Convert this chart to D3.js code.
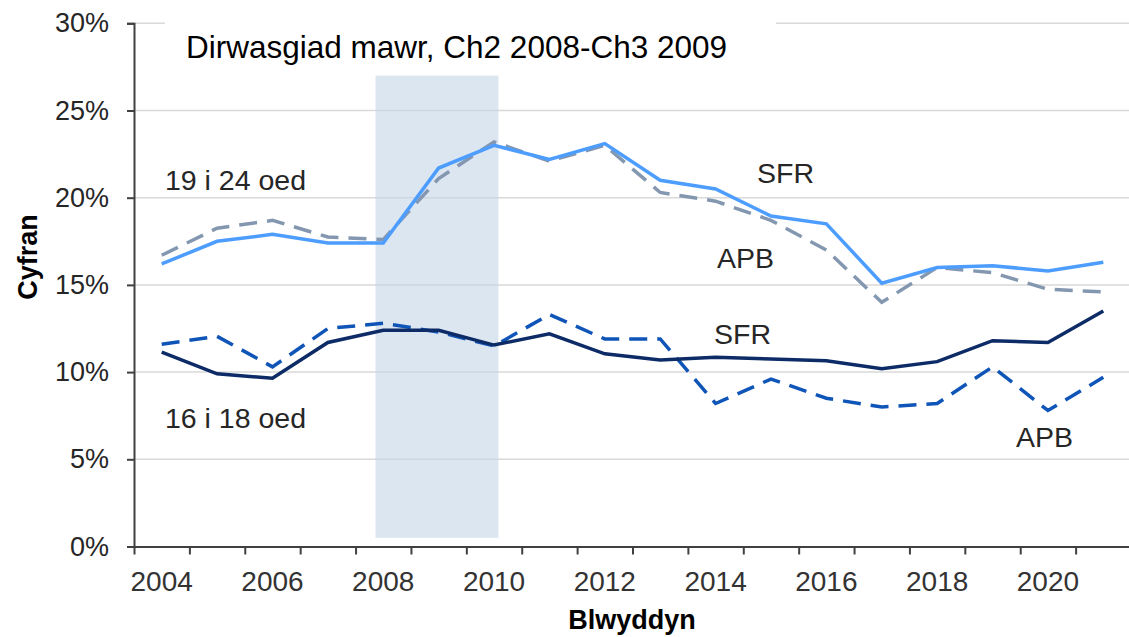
<!DOCTYPE html>
<html>
<head>
<meta charset="utf-8">
<script src="https://cdn.jsdelivr.net/npm/d3@7"></script>
<style>
  body { margin: 0; background: #fff; }
  text { font-family: "Liberation Sans", Arial, sans-serif; fill: #262626; }
</style>
</head>
<body>
<svg id="chart" width="1129" height="637"></svg>
<script>
// Data
const years = d3.range(2004, 2022);
const sfr1924 = [16.2, 17.5, 17.9, 17.4, 17.4, 21.7, 23.0, 22.2, 23.1, 21.0, 20.5, 18.95, 18.5, 15.1, 16.0, 16.1, 15.8, 16.3];
const apb1924 = [16.7, 18.25, 18.7, 17.75, 17.6, 21.1, 23.2, 22.1, 23.0, 20.3, 19.8, 18.7, 17.0, 14.0, 16.0, 15.7, 14.75, 14.6];
const sfr1618 = [11.15, 9.9, 9.65, 11.7, 12.4, 12.4, 11.55, 12.2, 11.05, 10.7, 10.85, 10.75, 10.65, 10.2, 10.6, 11.8, 11.7, 13.5];
const apb1618 = [11.6, 12.05, 10.3, 12.5, 12.8, 12.3, 11.5, 13.3, 11.9, 11.9, 8.2, 9.6, 8.5, 8.0, 8.2, 10.3, 7.8, 9.7];
const yTicks = [0, 5, 10, 15, 20, 25, 30];
const xLabels = [2004, 2006, 2008, 2010, 2012, 2014, 2016, 2018, 2020];
const recession = [2007.86, 2010.08];

const svg = d3.select('#chart');

const x = d3.scaleLinear().domain([2003.5, 2021.5]).range([134, 1131]);
const y = d3.scaleLinear().domain([0, 30]).range([546.5, 23.3]);

// gridlines
svg.append('g')
  .selectAll('line')
  .data(yTicks.slice(1))
  .join('line')
  .attr('x1', 134).attr('x2', 1129)
  .attr('y1', d => y(d)).attr('y2', d => y(d))
  .attr('stroke', '#d9d9d9')
  .attr('stroke-width', 1.5);

// recession shading
svg.append('rect')
  .attr('x', x(recession[0]))
  .attr('width', x(recession[1]) - x(recession[0]))
  .attr('y', y(27))
  .attr('height', y(0.5) - y(27))
  .attr('fill', '#c5d5e8')
  .attr('opacity', 0.6);

// title box
svg.append('rect')
  .attr('x', 165).attr('y', 8)
  .attr('width', 611).attr('height', 58)
  .attr('fill', '#fff');

svg.append('text')
  .attr('x', 186).attr('y', 58)
  .style('font-size', '31.5px')
  .style('fill', '#000')
  .text('Dirwasgiad mawr, Ch2 2008-Ch3 2009');

// axes
const yAxis = svg.append('g')
  .attr('transform', 'translate(134,0)')
  .call(d3.axisLeft(y).tickValues(yTicks).tickFormat(d => d + '%').tickSize(7).tickPadding(18));
yAxis.select('.domain').attr('stroke', '#404040').attr('stroke-width', 2);
yAxis.selectAll('.tick line').attr('stroke', '#404040').attr('stroke-width', 2);
yAxis.selectAll('.tick text')
  .style('font-size', '27px')
  .style('font-family', '"Liberation Sans", Arial, sans-serif')
  .attr('fill', '#333');

const xAxis = svg.append('g')
  .attr('transform', 'translate(0,546.5)')
  .call(d3.axisBottom(x).tickValues(d3.range(2003.5, 2022, 1)).tickFormat('').tickSize(8).tickSizeOuter(0));
xAxis.select('.domain').attr('stroke', '#404040').attr('stroke-width', 2);
xAxis.selectAll('.tick line').attr('stroke', '#404040').attr('stroke-width', 2);

svg.append('g')
  .selectAll('text')
  .data(xLabels)
  .join('text')
  .attr('x', d => x(d))
  .attr('y', 591)
  .attr('text-anchor', 'middle')
  .style('font-size', '28px')
  .style('fill', '#333')
  .text(d => d);

// axis titles
svg.append('text')
  .attr('transform', 'translate(37,257) rotate(-90)')
  .attr('text-anchor', 'middle')
  .style('font-size', '27px')
  .style('font-weight', 'bold')
  .style('fill', '#000')
  .text('Cyfran');

svg.append('text')
  .attr('x', 632).attr('y', 629)
  .attr('text-anchor', 'middle')
  .style('font-size', '27px')
  .style('font-weight', 'bold')
  .style('fill', '#000')
  .text('Blwyddyn');

// lines
const line = d3.line()
  .x((d, i) => x(years[i]))
  .y(d => y(d));

const series = [
  { values: apb1924, color: '#8497b0', dash: '18,10' },
  { values: sfr1924, color: '#4d9dff', dash: null },
  { values: apb1618, color: '#0f55b8', dash: '18,10' },
  { values: sfr1618, color: '#0d2b66', dash: null }
];

svg.append('g')
  .selectAll('path')
  .data(series)
  .join('path')
  .attr('d', d => line(d.values))
  .attr('fill', 'none')
  .attr('stroke', d => d.color)
  .attr('stroke-width', 3.5)
  .attr('stroke-dasharray', d => d.dash);

// annotations
const notes = [
  { text: '19 i 24 oed', x: 165, y: 190 },
  { text: '16 i 18 oed', x: 165, y: 428 },
  { text: 'SFR', x: 757, y: 183 },
  { text: 'APB', x: 717, y: 268 },
  { text: 'SFR', x: 714, y: 344 },
  { text: 'APB', x: 1016, y: 447 }
];

svg.append('g')
  .selectAll('text')
  .data(notes)
  .join('text')
  .attr('x', d => d.x)
  .attr('y', d => d.y)
  .style('font-size', '28.5px')
  .style('fill', '#262626')
  .text(d => d.text);
</script>
</body>
</html>
